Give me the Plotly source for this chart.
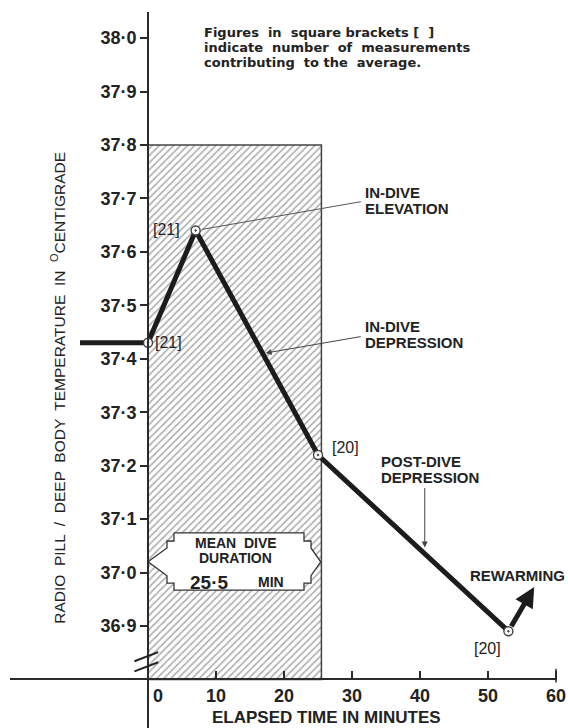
import plotly.graph_objects as go

# Mean radio-pill (deep body) temperature before, during and after a dive
time_min = [-10, 0, 7, 25, 53]
temp_c = [37.43, 37.43, 37.64, 37.22, 36.89]
count_labels = ["", "[21]", "[21]", "[20]", "[20]"]

# Mean dive period (shaded) and broken-scale origin
dive_duration = 25.5
shade_top = 37.8
scale_floor = 36.8

# Rewarming direction after the last measurement
rewarm_tip = (56.8, 36.973)

# Axes
y_tick_vals = [36.9, 37.0, 37.1, 37.2, 37.3, 37.4, 37.5, 37.6, 37.7, 37.8, 37.9, 38.0]
y_tick_text = ["36·9", "37·0", "37·1", "37·2", "37·3", "37·4", "37·5", "37·6",
               "37·7", "37·8", "37·9", "38·0"]
x_tick_vals = [0, 10, 20, 30, 40, 50, 60]
x_tick_text = ["\u00a0\u00a0\u00a0\u00a00", "10", "20", "30", "40", "50", "60"]

x_range = [-20.3, 60.15]
y_range = [36.709, 38.049]

# Outline of the double-headed "mean dive duration" block arrow
box_x = [3.82, 22.94, 22.94, 23.97, 23.97, 25.4, 23.97, 23.97, 22.94, 22.94,
         3.82, 3.82, 2.79, 2.79, 0.0, 2.79, 2.79, 3.82, 3.82]
box_y = [37.074, 37.074, 37.059, 37.059, 37.046, 37.020, 36.994, 36.980, 36.980, 36.967,
         36.967, 36.980, 36.980, 36.994, 37.020, 37.046, 37.059, 37.059, 37.074]

INK = "#222222"
FONT = "Liberation Sans"


def on_line(x):
    """Temperature on the plotted polyline at time x."""
    for (x0, y0), (x1, y1) in zip(zip(time_min, temp_c), zip(time_min[1:], temp_c[1:])):
        if x0 <= x <= x1:
            return y0 + (y1 - y0) * (x - x0) / (x1 - x0)
    return temp_c[-1]


fig = go.Figure()

# Hatched dive period
fig.add_trace(go.Scatter(
    x=[0, dive_duration, dive_duration, 0, 0],
    y=[scale_floor, scale_floor, shade_top, shade_top, scale_floor],
    mode="lines", fill="toself", fillcolor="white",
    fillpattern=dict(shape="/", size=5, solidity=0.3, fgcolor="#555555", bgcolor="white"),
    line=dict(color="#444444", width=1.5), hoverinfo="skip", showlegend=False,
))

# Mean dive duration block arrow
fig.add_trace(go.Scatter(
    x=box_x, y=box_y, mode="lines", fill="toself", fillcolor="white",
    line=dict(color="#333333", width=1.3), hoverinfo="skip", showlegend=False,
))

# Temperature trace
fig.add_trace(go.Scatter(
    x=time_min, y=temp_c, mode="lines",
    line=dict(color="#1c1c1c", width=5), hoverinfo="skip", showlegend=False,
))
fig.add_trace(go.Scatter(
    x=time_min[1:], y=temp_c[1:], mode="markers",
    marker=dict(symbol="circle-dot", size=9, color="white",
                line=dict(color="#444444", width=1.4)),
    hoverinfo="skip", showlegend=False,
))

ann = []

# Measurement counts next to each point
count_offsets = [None, ("left", 5, 0), ("right", -14, 1), ("left", 12, 7), ("right", -5, -17)]
for x, y, lab, off in zip(time_min, temp_c, count_labels, count_offsets):
    if not lab:
        continue
    xa, xs, ys = off
    ann.append(dict(x=x, y=y, text=lab, showarrow=False, xanchor=xa, yanchor="middle",
                    xshift=xs, yshift=ys, font=dict(size=16, color=INK, family=FONT)))


def text_lines(x, y, lines, size=15, spacing=16, anchor="left", weight="bold", family=FONT):
    n = len(lines)
    for i, t in enumerate(lines):
        ann.append(dict(x=x, y=y, text=t, showarrow=False, xanchor=anchor, yanchor="middle",
                        yshift=(n - 1) * spacing / 2 - i * spacing,
                        font=dict(size=size, color=INK, family=family, weight=weight)))


text_lines(31.6, 37.697, ["IN-DIVE", "ELEVATION"])
text_lines(31.6, 37.445, ["IN-DIVE", "DEPRESSION"])
text_lines(34.0, 37.193, ["POST-DIVE", "DEPRESSION"])
text_lines(47.1, 36.995, ["REWARMING"])
text_lines(7.9, 37.983, ["Figures  in  square brackets [  ]",
                         "indicate  number  of  measurements",
                         "contributing  to the  average."],
           size=13, spacing=15, family="DejaVu Sans")

# Text inside the block arrow
text_lines(12.9, 37.041, ["MEAN  DIVE", "DURATION"], size=14, spacing=15.5, anchor="center")
text_lines(9.0, 36.982, ["25·5"], size=19, anchor="center")
text_lines(18.1, 36.982, ["MIN"], size=14, anchor="center")

# Time axis title
text_lines(26.2, 36.728, ["ELAPSED TIME IN MINUTES"], size=17, anchor="center")

# Leader lines to the trace
ann.append(dict(x=17.3, y=on_line(17.0) + 0.004, ax=31.5, ay=37.442,
                xref="x", yref="y", axref="x", ayref="y", text="", showarrow=True,
                arrowhead=2, arrowsize=1.2, arrowwidth=1, arrowcolor="#444444"))
ann.append(dict(x=40.7, y=on_line(40.7) + 0.012, ax=40.7, ay=37.161,
                xref="x", yref="y", axref="x", ayref="y", text="", showarrow=True,
                arrowhead=2, arrowsize=1.2, arrowwidth=1, arrowcolor="#444444"))

# Rewarming arrow
ann.append(dict(x=rewarm_tip[0], y=rewarm_tip[1], ax=time_min[-1], ay=temp_c[-1],
                xref="x", yref="y", axref="x", ayref="y", text="", showarrow=True,
                arrowhead=2, arrowsize=0.8, arrowwidth=5, arrowcolor="#1c1c1c", standoff=0,
                startstandoff=4))

# Temperature axis title
ann.append(dict(x=0.088, xref="paper", y=37.346, yref="y",
                text="RADIO  PILL  /  DEEP  BODY  TEMPERATURE  IN  <sup>O</sup>CENTIGRADE",
                textangle=-90, showarrow=False, xanchor="center", yanchor="middle",
                font=dict(size=15.5, color=INK, family=FONT)))

shapes = [
    # Leader from the in-dive peak to its label
    dict(type="line", x0=time_min[2] + 0.9, y0=temp_c[2] + 0.002, x1=31.3, y1=37.694,
         line=dict(color="#555555", width=1)),
    # Scale-break marks on the temperature axis
    dict(type="line", x0=-2.0, y0=36.834, x1=1.5, y1=36.851, line=dict(color=INK, width=2)),
    dict(type="line", x0=-2.0, y0=36.815, x1=1.5, y1=36.832, line=dict(color=INK, width=2)),
    # Closing tick at the end of the time axis
    dict(type="line", x0=x_tick_vals[-1], x1=x_tick_vals[-1], y0=scale_floor - 0.006,
         y1=scale_floor + 0.02, line=dict(color="#2a2a2a", width=1.5)),
]

x_pos = (scale_floor - y_range[0]) / (y_range[1] - y_range[0])
y_pos = (0 - x_range[0]) / (x_range[1] - x_range[0])

fig.update_layout(
    width=568, height=728,
    margin=dict(l=10, r=11, t=12, b=0),
    paper_bgcolor="white", plot_bgcolor="white",
    font=dict(family=FONT, color=INK),
    showlegend=False,
    annotations=ann, shapes=shapes,
    xaxis=dict(
        range=x_range, anchor="free", position=x_pos,
        showgrid=False, zeroline=False,
        showline=True, linecolor="#2a2a2a", linewidth=2,
        tickmode="array", tickvals=x_tick_vals, ticktext=x_tick_text,
        ticks="inside", ticklen=7, tickwidth=1.5, tickcolor="#2a2a2a",
        tickfont=dict(size=18, color=INK, family=FONT, weight="bold"),
    ),
    yaxis=dict(
        range=y_range, anchor="free", position=y_pos,
        showgrid=False, zeroline=False,
        showline=True, linecolor="#2a2a2a", linewidth=2,
        tickmode="array", tickvals=y_tick_vals, ticktext=y_tick_text,
        ticks="outside", ticklen=7, tickwidth=1.5, tickcolor="#2a2a2a",
        tickfont=dict(size=18, color=INK, family=FONT, weight="bold"),
    ),
    yaxis2=dict(
        matches="y", overlaying="y", anchor="free", position=y_pos,
        showgrid=False, zeroline=False, showline=False,
        tickmode="array", tickvals=y_tick_vals, showticklabels=False,
        ticks="inside", ticklen=6, tickwidth=1.5, tickcolor="#2a2a2a",
    ),
)

fig.write_html("out.html")
